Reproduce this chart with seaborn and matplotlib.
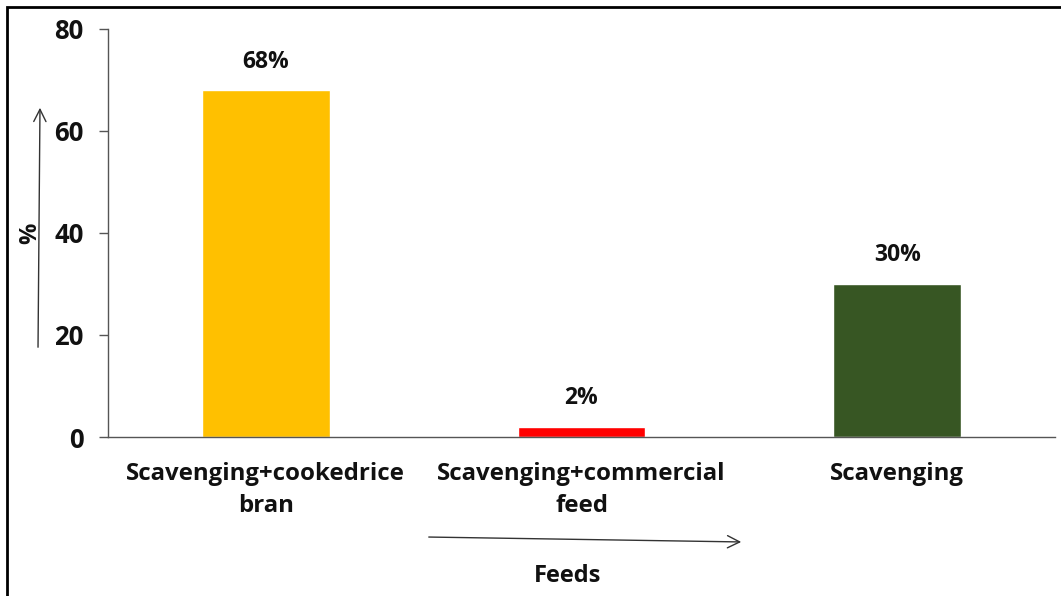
import matplotlib
matplotlib.use("Agg")
import matplotlib.pyplot as plt
import seaborn as sns
import pandas as pd
from matplotlib.patches import Rectangle, FancyArrowPatch

feeds = ["Scavenging+cookedrice\nbran", "Scavenging+commercial\nfeed", "Scavenging"]
percent = [68, 2, 30]
bar_colors = ["#FFC000", "#FF0000", "#375623"]
yticks = [0, 20, 40, 60, 80]

sns.set_theme(style="white")
plt.rcParams["font.family"] = ["Open Sans", "DejaVu Sans"]

df = pd.DataFrame({"Feed": feeds, "Percent": percent})

W, H = 1061, 596
fig = plt.figure(figsize=(W / 100, H / 100), dpi=100)
ax = fig.add_axes([108 / W, 1 - 437 / H, (1055 - 108) / W, (437 - 29) / H])

sns.barplot(data=df, x="Feed", y="Percent", hue="Feed", palette=bar_colors,
            width=0.405, legend=False, ax=ax, saturation=1)

for i, v in enumerate(percent):
    ax.annotate(f"{v}%", (i, v), xytext=(0, 12), textcoords="offset points",
                ha="center", va="bottom", fontsize=16.5, fontweight="bold",
                color="#111111")

ax.set_ylim(0, 80)
ax.set_yticks(yticks)
ax.set_xlim(-0.5, 2.5)
ax.set_xlabel("")
ax.set_ylabel("")
for s in ["top", "right"]:
    ax.spines[s].set_visible(False)
for s in ["left", "bottom"]:
    ax.spines[s].set_color("#555555")
    ax.spines[s].set_linewidth(1.0)
ax.tick_params(axis="y", which="major", left=True, length=6.5, width=1, color="#555555",
               labelsize=18.5, pad=11)
ax.tick_params(axis="x", bottom=False, labelsize=17.3, pad=12)
for lbl in ax.get_yticklabels() + ax.get_xticklabels():
    lbl.set_fontweight("bold")
    lbl.set_color("#111111")
for lbl in ax.get_xticklabels():
    lbl.set_linespacing(1.45)

# axis titles with hand-drawn style arrows
fig.text(30 / W, 1 - 233 / H, "%", rotation=90, ha="center", va="center",
         fontsize=17, fontweight="bold", color="#111111")
fig.text(568 / W, 1 - 576 / H, "Feeds", ha="center", va="center",
         fontsize=17, fontweight="bold", color="#111111")
fig.add_artist(FancyArrowPatch(
    (38 / W, 1 - 350 / H), (40 / W, 1 - 105 / H),
    transform=fig.transFigure, arrowstyle="->", mutation_scale=22,
    color="#333333", linewidth=1.0))
fig.add_artist(FancyArrowPatch(
    (426 / W, 1 - 537 / H), (744 / W, 1 - 542 / H),
    transform=fig.transFigure, arrowstyle="->", mutation_scale=22,
    color="#333333", linewidth=1.0))

# outer frame
fig.add_artist(Rectangle((7 / W, -0.01), 1.0, 1 - 7 / H + 0.01,
                         transform=fig.transFigure, fill=False,
                         edgecolor="black", linewidth=2))

fig.savefig("out.png", dpi=100)
